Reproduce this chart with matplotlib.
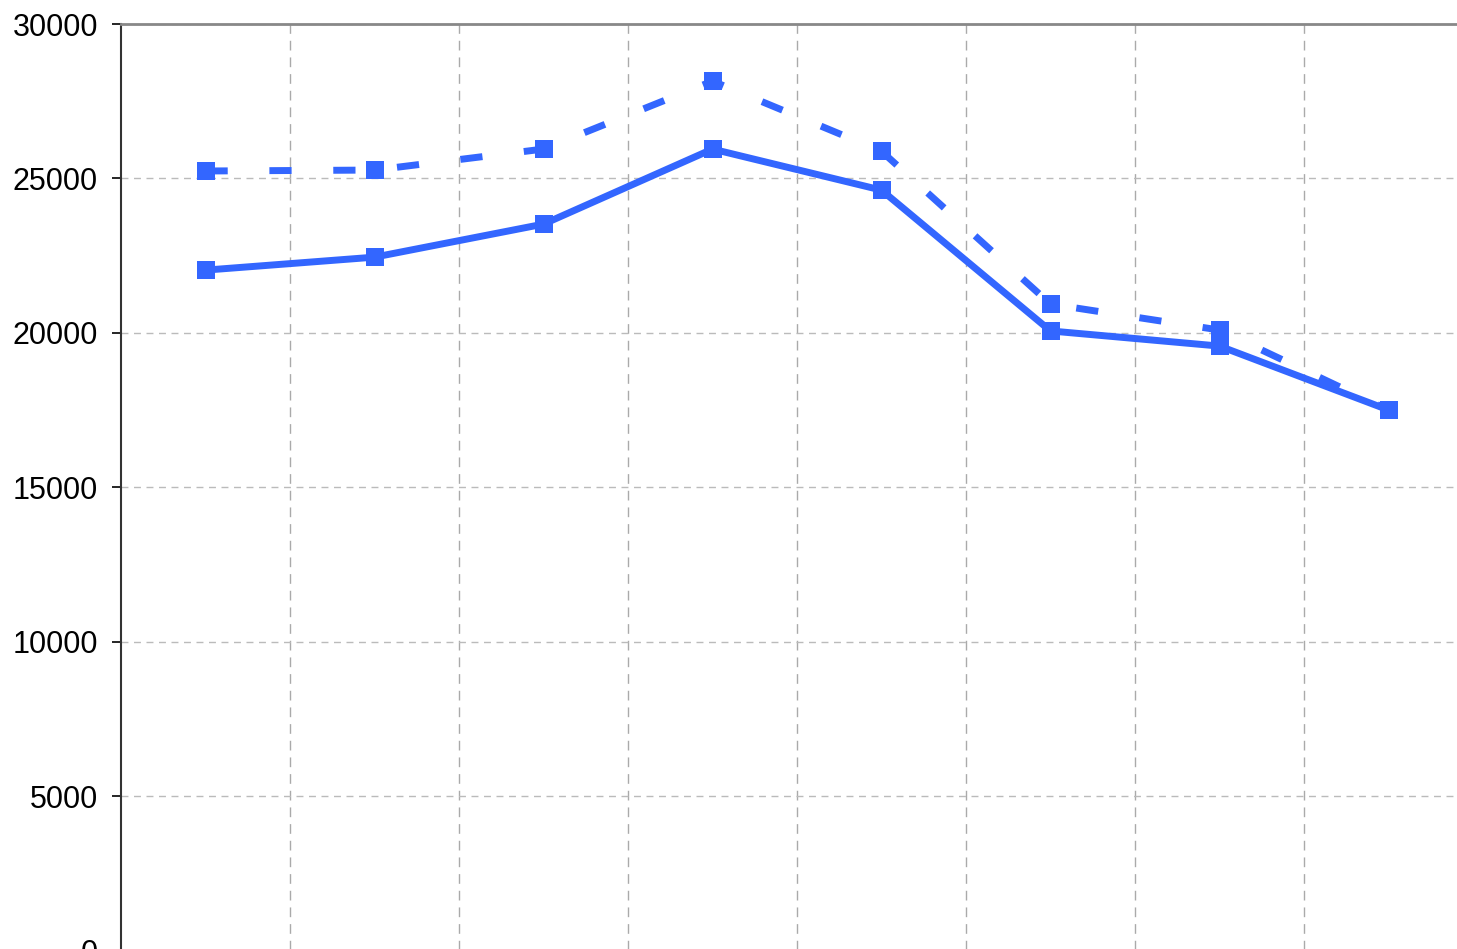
import numpy as np
import matplotlib.pyplot as plt

plt.rcParams['font.family'] = ['Liberation Sans', 'DejaVu Sans']

# значения серий (категории без подписей, 8 точек)
categories = np.arange(8)
solid_values = [22030, 22450, 23520, 25950, 24620, 20060, 19570, 17500]
dashed_values = [25240, 25270, 25950, 28150, 25880, 20930, 20090, 17500]
y_ticks = [0, 5000, 10000, 15000, 20000, 25000, 30000]

color = '#3366ff'

fig = plt.figure(figsize=(14.57, 9.49), dpi=100)
W, H = 1457, 949
left, top, right, bottom = 121, 24, 1473, 950.4
ax = fig.add_axes([left / W, 1 - bottom / H, (right - left) / W, (bottom - top) / H])

ax.plot(categories, solid_values, color=color, linewidth=5,
        marker='s', markersize=13, markeredgewidth=0, zorder=4)
ax.plot(categories, dashed_values, color=color, linewidth=5, linestyle=(0, (3.2, 6)),
        marker='s', markersize=13, markeredgewidth=0, zorder=3)

ax.set_xlim(-0.5, 7.5)
ax.set_ylim(0, 30000)
ax.set_yticks(y_ticks)
ax.set_yticklabels([str(v) for v in y_ticks], fontsize=22)
ax.set_xticks([])
ax.set_xticks(np.arange(0.5, 7.5, 1), minor=True)

ax.tick_params(axis='y', length=6.5, width=1.2, pad=10, colors='black')
ax.tick_params(axis='x', which='minor', length=0)

ax.grid(True, axis='y', which='major', color='#bbbbbb', linestyle=(0, (5, 4)), linewidth=1)
ax.grid(True, axis='x', which='minor', color='#aaaaaa', linestyle=(0, (7, 5)), linewidth=1)
ax.set_axisbelow(True)

ax.spines['right'].set_visible(False)
ax.spines['bottom'].set_visible(False)
ax.spines['top'].set_color('#888888')
ax.spines['top'].set_linewidth(2)
ax.spines['left'].set_color('#333333')
ax.spines['left'].set_linewidth(1.5)

fig.savefig('out.png', dpi=100)
